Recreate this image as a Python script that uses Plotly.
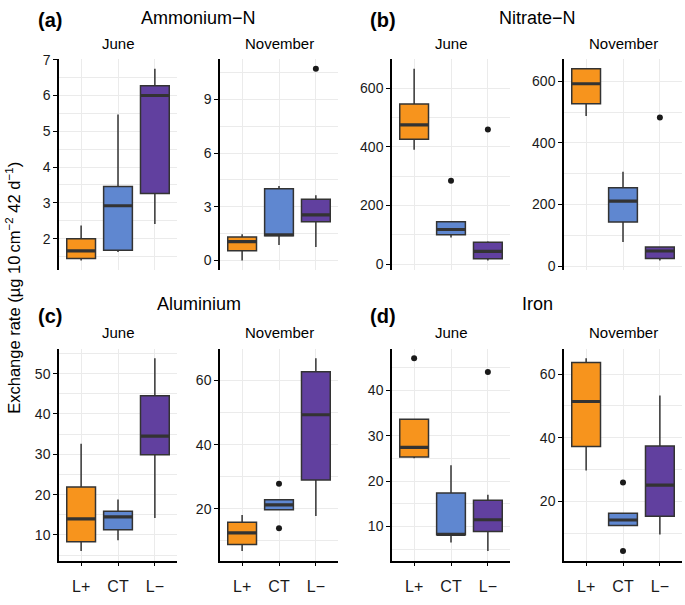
import plotly.graph_objects as go

# treatments and colours
treat = ["L+", "CT", "L\u2212"]
fills = ["#F7941D", "#5F87D0", "#61409F"]

# Ammonium-N, June
amm_jun_lo = [1.39, 1.63, 2.41]
amm_jun_q1 = [1.45, 1.68, 3.26]
amm_jun_med = [1.66, 2.92, 6.00]
amm_jun_q3 = [2.00, 3.46, 6.27]
amm_jun_hi = [2.37, 5.47, 6.75]
amm_jun_out = [[], [], []]

# Ammonium-N, November
amm_nov_lo = [0.00, 0.87, 0.75]
amm_nov_q1 = [0.55, 1.38, 2.16]
amm_nov_med = [1.05, 1.44, 2.55]
amm_nov_q3 = [1.31, 4.00, 3.42]
amm_nov_hi = [1.47, 4.16, 3.65]
amm_nov_out = [[], [], [10.71]]

# Nitrate-N, June
nit_jun_lo = [390, 91, 12]
nit_jun_q1 = [426, 100, 18]
nit_jun_med = [475, 118, 43]
nit_jun_q3 = [546, 144, 74]
nit_jun_hi = [667, 146, 78]
nit_jun_out = [[], [284], [459]]

# Nitrate-N, November
nit_nov_lo = [487, 78, 18]
nit_nov_q1 = [527, 143, 25]
nit_nov_med = [592, 211, 49]
nit_nov_q3 = [641, 254, 62]
nit_nov_hi = [641, 306, 64]
nit_nov_out = [[], [], [482]]

# Aluminium, June
alu_jun_lo = [6.0, 8.7, 14.2]
alu_jun_q1 = [8.3, 11.3, 29.9]
alu_jun_med = [14.0, 14.5, 34.5]
alu_jun_q3 = [21.9, 15.9, 44.5]
alu_jun_hi = [32.6, 18.8, 53.8]
alu_jun_out = [[], [], []]

# Aluminium, November
alu_nov_lo = [6.8, 19.7, 17.75]
alu_nov_q1 = [8.84, 19.7, 29.0]
alu_nov_med = [12.5, 21.2, 49.3]
alu_nov_q3 = [15.8, 22.8, 62.7]
alu_nov_hi = [18.06, 22.8, 66.9]
alu_nov_out = [[], [27.8, 13.9], []]

# Iron, June
fe_jun_lo = [25.0, 6.5, 4.6]
fe_jun_q1 = [25.3, 8.2, 8.9]
fe_jun_med = [27.4, 8.3, 11.5]
fe_jun_q3 = [33.6, 17.4, 15.8]
fe_jun_hi = [33.6, 23.5, 17.0]
fe_jun_out = [[47.0], [], [44.0]]

# Iron, November
fe_nov_lo = [29.7, 12.4, 9.5]
fe_nov_q1 = [37.2, 12.4, 15.3]
fe_nov_med = [51.4, 14.1, 25.1]
fe_nov_q3 = [63.7, 16.2, 37.4]
fe_nov_hi = [65.0, 16.2, 53.3]
fe_nov_out = [[], [25.9, 4.3], []]

panels = [
    (amm_jun_lo, amm_jun_q1, amm_jun_med, amm_jun_q3, amm_jun_hi, amm_jun_out, 1),
    (amm_nov_lo, amm_nov_q1, amm_nov_med, amm_nov_q3, amm_nov_hi, amm_nov_out, 3),
    (nit_jun_lo, nit_jun_q1, nit_jun_med, nit_jun_q3, nit_jun_hi, nit_jun_out, 200),
    (nit_nov_lo, nit_nov_q1, nit_nov_med, nit_nov_q3, nit_nov_hi, nit_nov_out, 200),
    (alu_jun_lo, alu_jun_q1, alu_jun_med, alu_jun_q3, alu_jun_hi, alu_jun_out, 10),
    (alu_nov_lo, alu_nov_q1, alu_nov_med, alu_nov_q3, alu_nov_hi, alu_nov_out, 20),
    (fe_jun_lo, fe_jun_q1, fe_jun_med, fe_jun_q3, fe_jun_hi, fe_jun_out, 10),
    (fe_nov_lo, fe_nov_q1, fe_nov_med, fe_nov_q3, fe_nov_hi, fe_nov_out, 20),
]

W, H = 685, 605
FONT = "Liberation Sans, Arial, sans-serif"
GRID = "#EBEBEB"
EDGE = "#333333"

# panel pixel boxes (left, right) and (top, bottom)
cols_px = [(59, 177), (220, 338), (392, 510), (564, 682)]
rows_px = [(53, 268), (348, 564)]

fig = go.Figure()
layout = {}

for k, (lo, q1, med, q3, hi, out, dt) in enumerate(panels):
    row, col = k // 4, k % 4
    # panels go a-June, a-Nov, b-June, b-Nov on each row
    n = k + 1
    xa, ya = ("x", "y") if n == 1 else (f"x{n}", f"y{n}")

    for i in range(3):
        fig.add_trace(go.Box(
            x=[treat[i]], q1=[q1[i]], median=[med[i]], q3=[q3[i]],
            lowerfence=[lo[i]], upperfence=[hi[i]],
            fillcolor=fills[i], line=dict(color=EDGE, width=1.5),
            whiskerwidth=0, boxpoints=False, xaxis=xa, yaxis=ya,
            hoverinfo="skip"))
        # thicker median bar, like ggplot
        fig.add_trace(go.Box(
            x=[treat[i]], q1=[med[i]], median=[med[i]], q3=[med[i]],
            lowerfence=[med[i]], upperfence=[med[i]],
            fillcolor="rgba(0,0,0,0)", line=dict(color=EDGE, width=3.2),
            whiskerwidth=0, boxpoints=False, xaxis=xa, yaxis=ya,
            hoverinfo="skip"))
        if out[i]:
            fig.add_trace(go.Scatter(
                x=[treat[i]] * len(out[i]), y=out[i], mode="markers",
                marker=dict(color="#1A1A1A", size=6), xaxis=xa, yaxis=ya,
                hoverinfo="skip"))

    allv = lo + hi + [v for o in out for v in o]
    vmin, vmax = min(allv), max(allv)
    pad = 0.05 * (vmax - vmin)

    x0, x1 = cols_px[col]
    y0, y1 = rows_px[row]
    bottom = row == 1

    layout["xaxis" if n == 1 else f"xaxis{n}"] = dict(
        domain=[x0 / W, x1 / W], anchor=ya,
        type="category", categoryorder="array", categoryarray=treat,
        range=[-0.6, 2.6], showgrid=True, gridcolor=GRID, gridwidth=1.3,
        showline=bottom, linecolor="black", linewidth=1.5,
        ticks="outside" if bottom else "", ticklen=4, tickwidth=1.3,
        tickcolor="black", showticklabels=bottom, ticklabelstandoff=6,
        tickfont=dict(size=16, color="#1A1A1A", family=FONT),
        zeroline=False, fixedrange=True)
    layout["yaxis" if n == 1 else f"yaxis{n}"] = dict(
        domain=[1 - y1 / H, 1 - y0 / H], anchor=xa,
        range=[vmin - pad, vmax + pad], tick0=0, dtick=dt,
        showgrid=True, gridcolor=GRID, gridwidth=1.3,
        minor=dict(tick0=0, dtick=dt / 2, showgrid=True, gridcolor=GRID,
                   gridwidth=1, ticks=""),
        showline=True, linecolor="black", linewidth=1.5,
        ticks="outside", ticklen=4, tickwidth=1.3, tickcolor="black",
        tickfont=dict(size=14, color="#1A1A1A", family=FONT),
        zeroline=False, fixedrange=True)

ann = []


def txt(s, x, y, size, bold=False, angle=0):
    ann.append(dict(text=f"<b>{s}</b>" if bold else s, x=x / W, y=1 - y / H,
                    xref="paper", yref="paper", showarrow=False,
                    textangle=angle, xanchor="center", yanchor="middle",
                    font=dict(size=size, color="black", family=FONT)))


titles = ["Ammonium\u2212N", "Nitrate\u2212N", "Aluminium", "Iron"]
tags = ["(a)", "(b)", "(c)", "(d)"]
title_y = [11, 11, 302, 302]
tag_y = [13, 13, 315, 315]
strip_y = [37, 37, 332, 332]
for g in range(4):
    row, half = g // 2, g % 2
    ca, cb = cols_px[2 * half], cols_px[2 * half + 1]
    txt(titles[g], (ca[0] + cb[1]) / 2, title_y[g], 18)
    txt(tags[g], ca[0] - 9, tag_y[g], 20, bold=True)
    txt("June", (ca[0] + ca[1]) / 2, strip_y[g], 15)
    txt("November", (cb[0] + cb[1]) / 2, strip_y[g], 15)

txt("Exchange rate (\u00b5g 10\u2009cm<sup>\u22122</sup> 42 d<sup>\u22121</sup>)",
    13, 286, 16.5, angle=-90)

layout.update(
    width=W, height=H, margin=dict(l=0, r=0, t=0, b=0),
    paper_bgcolor="white", plot_bgcolor="white",
    showlegend=False, boxgap=0.22, boxgroupgap=0, boxmode="overlay",
    annotations=ann)
fig.update_layout(**layout)

# drop the browser's default page margin so the figure sits at 0,0
fig.write_html("out.html", config={"displayModeBar": False},
               post_script="document.body.style.margin='0';"
                           "document.body.style.overflow='hidden';")
